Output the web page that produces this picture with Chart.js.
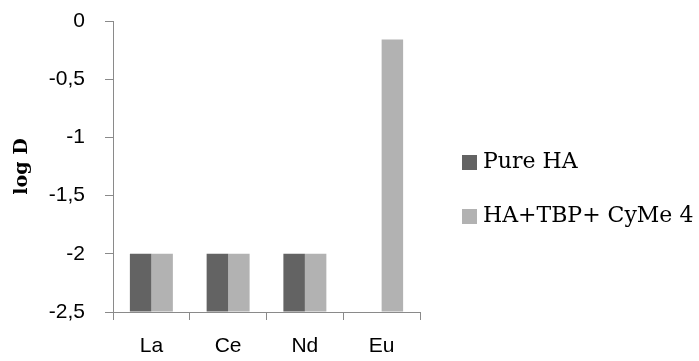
<!DOCTYPE html>
<html>
<head>
<meta charset="utf-8">
<script src="https://cdn.jsdelivr.net/npm/chart.js@4/dist/chart.umd.min.js"></script>
<style>
    html, body { margin: 0; padding: 0; background: #fff; }
    #wrap { width: 699px; height: 361px; }
</style>
</head>
<body>
<div id="wrap"><canvas id="logd"></canvas></div>
<script>
// Elementos y valores de log D
const elements = ["La", "Ce", "Nd", "Eu"];
const pureHA = [-2, -2, -2, null];
const haTbpCyMe = [-2, -2, -2, -0.16];
const seriesNames = ["Pure HA", "HA+TBP+ CyMe 4"];
const seriesColors = ["#636363", "#b2b2b2"];

const axisColor = "#8a8a8a";

// Leyenda dibujada a mano para que el texto pueda salirse del lienzo
const sideLegend = {
    id: "sideLegend",
    afterDraw(chart) {
        const ctx = chart.ctx;
        const area = chart.chartArea;
        const x = area.right + 42;
        let y = area.top + 141;
        ctx.save();
        ctx.font = "22px 'DejaVu Serif'";
        ctx.textBaseline = "middle";
        chart.data.datasets.forEach(ds => {
            ctx.fillStyle = ds.backgroundColor;
            ctx.fillRect(x, y - 7, 15, 15);
            ctx.fillStyle = "#000";
            ctx.fillText(ds.label, x + 21, y);
            y += 54;
        });
        ctx.restore();
    }
};

const ctx = document.getElementById("logd").getContext("2d");

new Chart(ctx, {
    type: "bar",
    data: {
        labels: elements,
        datasets: [
            { label: seriesNames[0], data: pureHA, backgroundColor: seriesColors[0] },
            { label: seriesNames[1], data: haTbpCyMe, backgroundColor: seriesColors[1] }
        ]
    },
    options: {
        responsive: true,
        maintainAspectRatio: false,
        animation: false,
        base: -2.5, // las barras parten del fondo del eje
        categoryPercentage: 0.56,
        barPercentage: 1,
        layout: { padding: { top: 21, right: 279, bottom: 0, left: 0 } },
        plugins: {
            legend: { display: false },
            tooltip: { enabled: false }
        },
        scales: {
            x: {
                afterFit(scale) { scale.height = 49; },
                grid: {
                    offset: true,
                    drawOnChartArea: false,
                    drawTicks: true,
                    tickLength: 8,
                    color: axisColor
                },
                border: { color: axisColor },
                ticks: {
                    color: "#000",
                    padding: 14,
                    font: { family: "'Liberation Sans'", size: 21 }
                }
            },
            y: {
                min: -2.5,
                max: 0,
                afterFit(scale) {
                    scale.width = 113;
                    // sin margen extra arriba y abajo por las etiquetas
                    scale.paddingTop = 0;
                    scale.paddingBottom = 0;
                },
                grid: {
                    drawOnChartArea: false,
                    drawTicks: true,
                    tickLength: 8,
                    color: axisColor
                },
                border: { color: axisColor },
                ticks: {
                    stepSize: 0.5,
                    color: "#000",
                    padding: 20,
                    font: { family: "'Liberation Sans'", size: 21 },
                    callback: v => String(v).replace(".", ",")
                },
                title: {
                    display: true,
                    text: "log D",
                    color: "#000",
                    padding: { top: 11, bottom: 0 },
                    font: { family: "'DejaVu Serif'", size: 19, weight: "bold" }
                }
            }
        }
    },
    plugins: [sideLegend]
});
</script>
</body>
</html>
